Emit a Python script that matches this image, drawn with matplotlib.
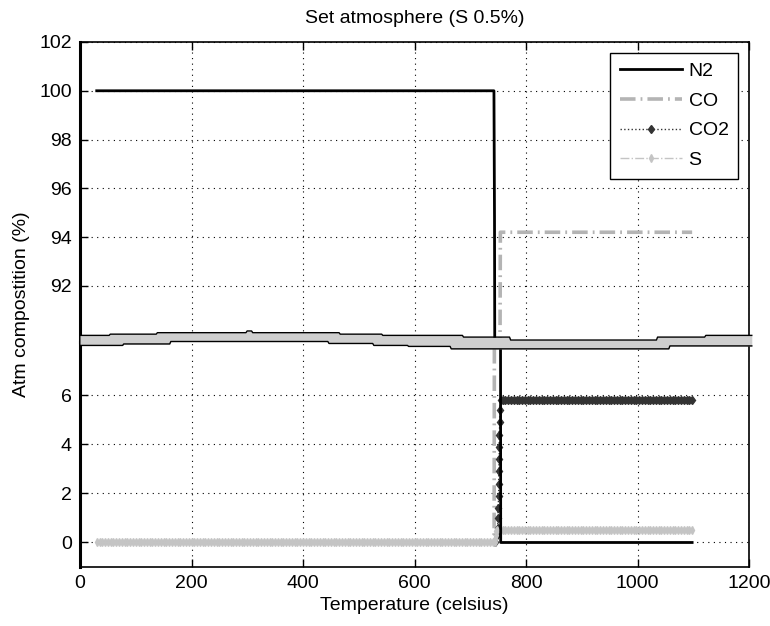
import matplotlib
matplotlib.use("Agg")
import matplotlib.pyplot as plt
import numpy as np

plt.rcParams['font.family'] = ['Liberation Sans', 'DejaVu Sans']
plt.rcParams['font.size'] = 14

# sample temperatures of the heating ramp (celsius)
temp_pre = np.arange(30, 741, 5)
temp_post = np.arange(758, 1101, 5)

# plateau levels (%) before / after the gas switch
n2_pre, n2_post = 100.0, 0.0
co_pre, co_post = 0.0, 94.2
co2_post = 5.8
s_pre, s_post = 0.0, 0.5

# readings logged during the switch, at almost constant temperature
n2_switch_t = [742.5, 743.5, 744.0, 749.0, 754.3, 754.6]
n2_switch = [100.0, 94.8, 89.0, 50.0, 8.5, 0.0]
co_switch_t = [742.8, 743.0, 743.3, 748.0, 753.5, 754.0]
co_switch = [0.0, 4.0, 8.5, 50.0, 89.5, 94.2]
co2_switch_t = [745, 748, 749, 750, 750, 751, 751, 751, 752, 752, 752, 753, 753, 755]
co2_switch = [0.0, 0.3, 0.6, 1.0, 1.4, 1.9, 2.4, 2.9, 3.4, 3.9, 4.4, 4.9, 5.4, 5.8]
s_switch_t = [744, 745, 746, 747, 748]
s_switch = [0.0, 0.15, 0.3, 0.45, 0.5]

# wavy break strip, stairs in lower-axis units
band_x = [0, 54, 138, 298, 308, 466, 542, 687, 771, 1035, 1121, 1205]
band_top = [8.45, 8.50, 8.56, 8.63, 8.56, 8.50, 8.45, 8.38, 8.26, 8.38, 8.45, 8.45]
band_lo_x = [0, 77, 161, 445, 526, 588, 664, 1058, 1205]
band_bottom = [8.04, 8.10, 8.20, 8.12, 8.04, 8.00, 7.90, 8.02, 8.02]

x_ticks = [0, 200, 400, 600, 800, 1000, 1200]
upper_ticks = [92, 94, 96, 98, 100, 102]
lower_ticks = [0, 2, 4, 6]


def series(pre_t, pre_v, sw_t, sw_v, post_v):
    t = np.concatenate([pre_t, sw_t, temp_post])
    v = np.concatenate([np.full(len(pre_t), pre_v), sw_v, np.full(len(temp_post), post_v)])
    return t, v


n2_t, n2 = series(temp_pre, n2_pre, n2_switch_t, n2_switch, n2_post)
co_t, co = series(temp_pre, co_pre, co_switch_t, co_switch, co_post)
co2_t, co2 = series([], 0.0, co2_switch_t, co2_switch, co2_post)
s_t, s = series(temp_pre, s_pre, s_switch_t, s_switch, s_post)

fig = plt.figure(figsize=(7.7, 6.26), dpi=100)
left, width = 80 / 770, 669 / 770
ax_hi = fig.add_axes([left, 284 / 626, width, 300 / 626])
ax_lo = fig.add_axes([left, 59 / 626, width, 225 / 626])

styles = [
    dict(label='N2', color='black', lw=2.0, zorder=6),
    dict(label='CO', color='#b4b4b4', lw=2.6, dashes=(4.3, 1.4, 0.5, 1.4), zorder=3),
    dict(label='CO2', color='#333333', lw=1.0, ls=':', marker='d', ms=4.5, zorder=4),
    dict(label='S', color='#c4c4c4', lw=1.0, ls='-.', marker='d', ms=4.0, zorder=5),
]
data = [(n2_t, n2), (co_t, co), (co2_t, co2), (s_t, s)]

for ax in (ax_hi, ax_lo):
    for (t, v), st in zip(data, styles):
        ax.plot(t, v, **st)
    ax.set_xlim(0, 1200)
    ax.set_xticks(x_ticks)
    ax.grid(True, color='black', lw=0.8, ls=(0, (1, 4)))
    ax.tick_params(direction='in', length=6, width=1, pad=6, labelsize=14)
    ax.spines['left'].set_linewidth(2.2)
    for side in ('top', 'right', 'bottom'):
        ax.spines[side].set_linewidth(1.2)

ax_hi.set_ylim(89.70, 102)
ax_hi.set_yticks(upper_ticks)
ax_hi.spines['bottom'].set_visible(False)
ax_hi.tick_params(axis='x', bottom=False, top=True, labelbottom=False)

ax_lo.set_ylim(-1, 8.18)
ax_lo.set_yticks(lower_ticks)
ax_lo.spines['top'].set_visible(False)
ax_lo.set_xticklabels([str(v) for v in x_ticks])

# break strip drawn over the seam of the two axes
bx = np.linspace(0, 1205, 600)
top_edge = np.array(band_top)[np.searchsorted(band_x, bx, side='right') - 1]
bot_edge = np.array(band_bottom)[np.searchsorted(band_lo_x, bx, side='right') - 1]
ax_lo.fill_between(bx, bot_edge, top_edge, color='#cfcfcf', lw=0, zorder=10, clip_on=False)
ax_lo.plot(bx, top_edge, color='black', lw=1.0, zorder=11, clip_on=False)
ax_lo.plot(bx, bot_edge, color='black', lw=1.0, zorder=11, clip_on=False)

ax_hi.legend(loc='upper right', fontsize=14, frameon=True, fancybox=False, framealpha=1,
             edgecolor='black', handlelength=3.2, handletextpad=0.35, labelspacing=0.62,
             borderpad=0.5, borderaxespad=0.55)

ax_hi.set_title('Set atmosphere (S 0.5%)', fontsize=14, pad=14)
ax_lo.set_xlabel('Temperature (celsius)', fontsize=14, labelpad=3)
fig.text(22 / 770, 1 - 304 / 626, 'Atm compostition (%)', rotation=90,
         ha='center', va='center', fontsize=14)

fig.savefig('out.png', dpi=100, facecolor='white')
